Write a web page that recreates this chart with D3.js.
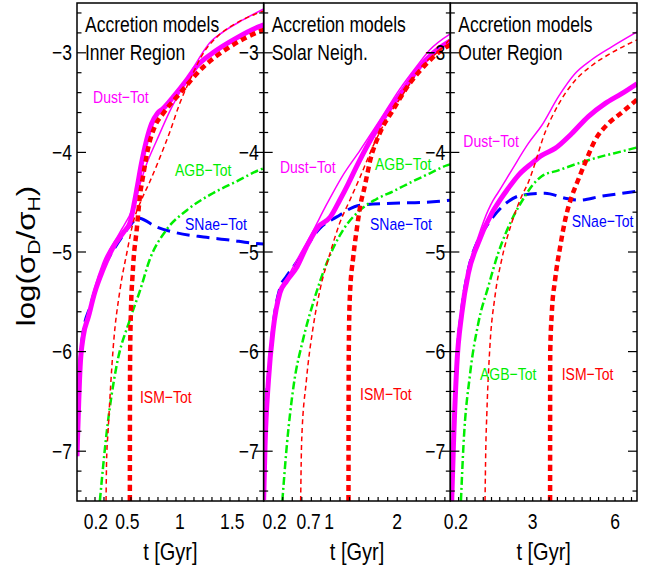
<!DOCTYPE html>
<html><head><meta charset="utf-8">
<script src="https://cdn.jsdelivr.net/npm/d3@7"></script>
<style>
body{margin:0;background:#fff}
svg{display:block}
text{font-family:"Liberation Sans",Arial,Helvetica,sans-serif}
</style>
</head><body>
<svg id="c" width="664" height="569"></svg>
<script>
// ---------------- DATA ----------------
const panelTitles = [["Accretion models","Inner Region"],["Accretion models","Solar Neigh."],["Accretion models","Outer Region"]];
const xDomains = [[0.02,1.8],[0.04,2.78],[0,6.8]];
const xTickValues = [[0.2,0.5,1,1.5],[0.2,0.7,1,2],[0.2,3,6]];
const xTickLabels = [["0.2","0.5","1","1.5"],["0.2","0.7","1","2"],["0.2","3","6"]];
const yDomain = [-7.5,-2.5];
const yTickValues = [-3,-4,-5,-6,-7];
const yTickLabels = ["−3","−4","−5","−6","−7"];
const xLabel = "t [Gyr]";

// Panel 1: Inner Region  [t (Gyr), log(sigma_D/sigma_H)]
const p1DustThick = [[0.02,-7.05],[0.05,-6.15],[0.079,-5.85],[0.129,-5.65],[0.188,-5.41],[0.267,-5.18],[0.366,-4.95],[0.465,-4.80],[0.524,-4.71],[0.564,-4.52],[0.594,-4.35],[0.633,-4.12],[0.683,-3.88],[0.732,-3.71],[0.786,-3.61],[0.841,-3.56],[0.94,-3.44],[1.068,-3.27],[1.157,-3.14],[1.316,-3.0],[1.543,-2.85],[1.751,-2.74],[1.8,-2.72]];
const p1DustThin = [[0.02,-7.05],[0.05,-6.15],[0.079,-5.84],[0.129,-5.62],[0.188,-5.36],[0.267,-5.11],[0.425,-4.81],[0.554,-4.55],[0.603,-4.38],[0.683,-4.12],[0.782,-3.875],[0.91,-3.575],[1.029,-3.34],[1.147,-3.12],[1.286,-2.9],[1.414,-2.79],[1.602,-2.67],[1.8,-2.56]];
const p1IsmThick = [[0.524,-7.5],[0.525,-6.5],[0.527,-6.0],[0.534,-5.6],[0.549,-5.25],[0.557,-5.11],[0.589,-4.78],[0.62,-4.44],[0.653,-4.22],[0.702,-3.94],[0.762,-3.74],[0.841,-3.61],[0.999,-3.41],[1.227,-3.14],[1.479,-2.94],[1.751,-2.79],[1.8,-2.77]];
const p1IsmThin = [[0.297,-7.5],[0.302,-7.1],[0.317,-6.79],[0.366,-5.95],[0.43,-5.38],[0.495,-5.01],[0.554,-4.71],[0.633,-4.48],[0.712,-4.30],[0.811,-4.05],[0.91,-3.78],[0.999,-3.51],[1.098,-3.27],[1.227,-3.0],[1.355,-2.84],[1.543,-2.70],[1.8,-2.58]];
const p1Agb = [[0.238,-7.5],[0.302,-6.82],[0.396,-6.15],[0.524,-5.68],[0.623,-5.38],[0.712,-5.08],[0.871,-4.78],[1.068,-4.58],[1.316,-4.41],[1.543,-4.29],[1.751,-4.18],[1.8,-4.16]];
const p1Snae = [[0.03,-6.5],[0.05,-6.08],[0.079,-5.8],[0.144,-5.55],[0.208,-5.33],[0.317,-5.07],[0.416,-4.9],[0.515,-4.75],[0.603,-4.66],[0.782,-4.75],[0.94,-4.80],[1.227,-4.85],[1.479,-4.88],[1.681,-4.91],[1.8,-4.92]];

// Panel 2: Solar Neighbourhood
const p2DustThick = [[0.04,-7.49],[0.06,-6.95],[0.11,-6.29],[0.179,-5.78],[0.279,-5.41],[0.379,-5.29],[0.528,-5.15],[0.667,-4.95],[0.837,-4.75],[1.016,-4.65],[1.156,-4.48],[1.285,-4.31],[1.405,-4.14],[1.604,-3.88],[1.843,-3.61],[2.092,-3.37],[2.331,-3.14],[2.53,-3.0],[2.78,-2.88]];
const p2DustThin = [[0.04,-7.49],[0.06,-6.95],[0.11,-6.29],[0.179,-5.78],[0.279,-5.40],[0.379,-5.27],[0.528,-5.08],[0.717,-4.85],[0.966,-4.52],[1.185,-4.25],[1.454,-3.98],[1.743,-3.68],[2.032,-3.37],[2.281,-3.14],[2.48,-2.97],[2.78,-2.81]];
const p2IsmThick = [[1.285,-7.5],[1.287,-6.5],[1.29,-5.95],[1.305,-5.45],[1.355,-5.05],[1.405,-4.78],[1.474,-4.48],[1.504,-4.40],[1.554,-4.24],[1.604,-4.08],[1.743,-3.81],[1.942,-3.57],[2.181,-3.31],[2.43,-3.11],[2.679,-2.96],[2.78,-2.92]];
const p2IsmThin = [[0.583,-7.5],[0.598,-6.89],[0.667,-6.29],[0.767,-5.75],[0.867,-5.38],[1.016,-5.01],[1.156,-4.71],[1.305,-4.48],[1.454,-4.25],[1.644,-3.94],[1.843,-3.67],[2.092,-3.41],[2.381,-3.12],[2.63,-2.97],[2.78,-2.86]];
const p2Agb = [[0.314,-7.5],[0.379,-6.95],[0.478,-6.35],[0.618,-5.88],[0.767,-5.51],[0.966,-5.11],[1.205,-4.78],[1.454,-4.58],[1.693,-4.47],[1.942,-4.39],[2.231,-4.29],[2.48,-4.21],[2.729,-4.13],[2.78,-4.12]];
const p2Snae = [[0.05,-7.1],[0.07,-6.6],[0.11,-6.24],[0.179,-5.73],[0.279,-5.36],[0.379,-5.24],[0.538,-5.09],[0.867,-4.76],[1.106,-4.65],[1.454,-4.53],[1.942,-4.51],[2.43,-4.50],[2.78,-4.48]];

// Panel 3: Outer Region
const p3DustThick = [[0.051,-7.5],[0.112,-6.95],[0.233,-6.15],[0.416,-5.62],[0.66,-5.21],[1.015,-4.91],[1.512,-4.61],[1.807,-4.48],[2.111,-4.36],[2.477,-4.23],[2.964,-4.11],[3.329,-4.03],[3.816,-3.96],[4.425,-3.81],[5.024,-3.64],[5.633,-3.51],[6.242,-3.41],[6.8,-3.31]];
const p3DustThin = [[0.051,-7.5],[0.112,-6.95],[0.233,-6.14],[0.416,-5.60],[0.66,-5.17],[1.015,-4.85],[1.38,-4.58],[1.563,-4.48],[1.746,-4.40],[2.233,-4.18],[2.842,-3.91],[3.329,-3.73],[3.938,-3.44],[4.537,-3.21],[5.146,-3.07],[5.877,-2.94],[6.8,-2.79]];
const p3IsmThick = [[3.634,-7.5],[3.636,-6.5],[3.639,-6.0],[3.695,-5.62],[3.816,-5.28],[3.999,-4.95],[4.182,-4.68],[4.425,-4.44],[4.608,-4.31],[4.902,-4.11],[5.268,-3.88],[5.755,-3.71],[6.242,-3.60],[6.8,-3.47]];
const p3IsmThin = [[1.264,-7.5],[1.29,-7.0],[1.33,-6.62],[1.441,-5.95],[1.624,-5.45],[1.868,-5.08],[2.233,-4.71],[2.598,-4.44],[2.842,-4.30],[2.964,-4.21],[3.451,-3.80],[3.938,-3.52],[4.537,-3.28],[5.146,-3.13],[5.877,-3.0],[6.8,-2.87]];
const p3Agb = [[0.386,-7.5],[0.477,-6.95],[0.721,-6.22],[1.015,-5.72],[1.38,-5.35],[1.746,-5.01],[2.233,-4.68],[2.72,-4.44],[2.964,-4.34],[3.329,-4.24],[3.938,-4.18],[4.659,-4.11],[5.511,-4.04],[6.242,-3.99],[6.8,-3.95]];
const p3Snae = [[0.07,-7.2],[0.112,-6.9],[0.233,-6.1],[0.416,-5.57],[0.66,-5.17],[1.015,-4.88],[1.269,-4.76],[1.868,-4.55],[2.598,-4.43],[3.451,-4.41],[4.182,-4.46],[4.659,-4.48],[5.511,-4.44],[6.8,-4.39]];

// curve labels [text, t, value] (left/baseline anchor)
const p1Labels = [["Dust−Tot",0.173,-3.504],["AGB−Tot",0.954,-4.237],["SNae−Tot",1.05,-4.779],["ISM−Tot",0.62,-6.516]];
const p2Labels = [["Dust−Tot",0.279,-4.207],["AGB−Tot",1.674,-4.177],["SNae−Tot",1.601,-4.779],["ISM−Tot",1.454,-6.486]];
const p3Labels = [["Dust−Tot",0.474,-3.943],["SNae−Tot",4.42,-4.746],["AGB−Tot",1.082,-6.285],["ISM−Tot",4.058,-6.285]];

// ---------------- STYLE / LAYOUT ----------------
const C = {mag:"#ff00ff", red:"#ff0000", green:"#00ee00", blue:"#0000ff"};
const styles = {
  dustThick:{c:C.mag,w:5,d:null},
  dustThin:{c:C.mag,w:1.5,d:null},
  ismThick:{c:C.red,w:4.5,d:"6,4"},
  ismThin:{c:C.red,w:1.5,d:"5,3.5"},
  agb:{c:C.green,w:2.5,d:"8,3,2,3"},
  snae:{c:C.blue,w:3,d:"13,7"}
};
const labelColor = {"Dust":C.mag,"AGB−":C.green,"SNae":C.blue,"ISM−":C.red};
const panels = [
  {series:{dustThick:p1DustThick,dustThin:p1DustThin,ismThick:p1IsmThick,ismThin:p1IsmThin,agb:p1Agb,snae:p1Snae},labels:p1Labels},
  {series:{dustThick:p2DustThick,dustThin:p2DustThin,ismThick:p2IsmThick,ismThin:p2IsmThin,agb:p2Agb,snae:p2Snae},labels:p2Labels},
  {series:{dustThick:p3DustThick,dustThin:p3DustThin,ismThick:p3IsmThick,ismThin:p3IsmThin,agb:p3Agb,snae:p3Snae},labels:p3Labels}
];
const drawOrder = ["snae","agb","dustThick","dustThin","ismThick","ismThin"];
const xMinorStep = [0.0858,0.14,0.3];

const L=77, R=637, T=3, B=501, pw=(R-L)/3;
const K = 1.22; // vertical text stretch of the original figure
const svg = d3.select("#c");
const y = d3.scaleLinear().domain(yDomain).range([B,T]);

function txt(g, x, yy, s, size, anchor, color){
  return g.append("text").attr("transform",`translate(${x},${yy}) scale(1,${K})`)
    .attr("font-size",size).attr("text-anchor",anchor||"start").attr("fill",color||"#000").text(s);
}

const defs = svg.append("defs");

panels.forEach((p,i)=>{
  const x0 = L + i*pw, x1 = x0 + pw;
  const x = d3.scaleLinear().domain(xDomains[i]).range([x0,x1]);
  defs.append("clipPath").attr("id","clip"+i).append("rect")
    .attr("x",x0).attr("y",T).attr("width",pw).attr("height",B-T);
  const g = svg.append("g");
  const cg = g.append("g").attr("clip-path",`url(#clip${i})`);
  const line = d3.line().x(d=>x(d[0])).y(d=>y(d[1])).curve(d3.curveMonotoneX);
  drawOrder.forEach(k=>{
    const st = styles[k];
    cg.append("path").datum(p.series[k]).attr("d",line)
      .attr("fill","none").attr("stroke",st.c).attr("stroke-width",st.w)
      .attr("stroke-dasharray",st.d).attr("stroke-linejoin","round");
  });
  // curve labels
  p.labels.forEach(l=>{
    txt(g, x(l[1]), y(l[2]), l[0], 14, "start", labelColor[l[0].slice(0,4)]);
  });
  // frame
  g.append("rect").attr("x",x0).attr("y",T).attr("width",pw).attr("height",B-T)
    .attr("fill","none").attr("stroke","#000").attr("stroke-width",1.5);
  // y ticks (both sides, inward)
  const minor = d3.range(-7.4,-2.5,0.2).filter(v=>Math.abs(v-Math.round(v))>0.01);
  const tk = g.append("g").attr("stroke","#000").attr("stroke-width",1.2);
  yTickValues.forEach(v=>{
    tk.append("line").attr("x1",x0).attr("x2",x0+9).attr("y1",y(v)).attr("y2",y(v));
    tk.append("line").attr("x1",x1).attr("x2",x1-9).attr("y1",y(v)).attr("y2",y(v));
  });
  minor.forEach(v=>{
    tk.append("line").attr("x1",x0).attr("x2",x0+4.5).attr("y1",y(v)).attr("y2",y(v));
    tk.append("line").attr("x1",x1).attr("x2",x1-4.5).attr("y1",y(v)).attr("y2",y(v));
  });
  // x minor ticks
  const d0 = xDomains[i][0], d1 = xDomains[i][1];
  d3.range(i===2?xMinorStep[i]:d0+xMinorStep[i], d1-0.01, xMinorStep[i]).forEach(t=>{
    tk.append("line").attr("x1",x(t)).attr("x2",x(t)).attr("y1",B).attr("y2",B-4);
  });
  // y tick labels
  yTickValues.forEach((v,j)=>{
    txt(g, x0-5, y(v)+0.358*17.5*K, yTickLabels[j], 17.5, "end");
  });
  // x tick labels
  xTickValues[i].forEach((v,j)=>{
    txt(g, x(v), 529, xTickLabels[i][j], 17.5, "middle");
  });
  // x axis label
  txt(g, (x0+x1)/2, 560, xLabel, 20, "middle");
  // panel titles
  txt(g, x0+8, 32, panelTitles[i][0], 17.5, "start");
  txt(g, x0+8, 60, panelTitles[i][1], 17.5, "start");
});

// y axis title
const yt = svg.append("text").attr("transform",`translate(35,256) rotate(-90) scale(1.25,1)`)
  .attr("font-size",25).attr("text-anchor","middle").attr("fill","#000");
yt.append("tspan").text("log(σ");
yt.append("tspan").attr("font-size",17).attr("dy",5).text("D");
yt.append("tspan").attr("dy",-5).text("/σ");
yt.append("tspan").attr("font-size",17).attr("dy",5).text("H");
yt.append("tspan").attr("dy",-5).text(")");
</script>
</body></html>
